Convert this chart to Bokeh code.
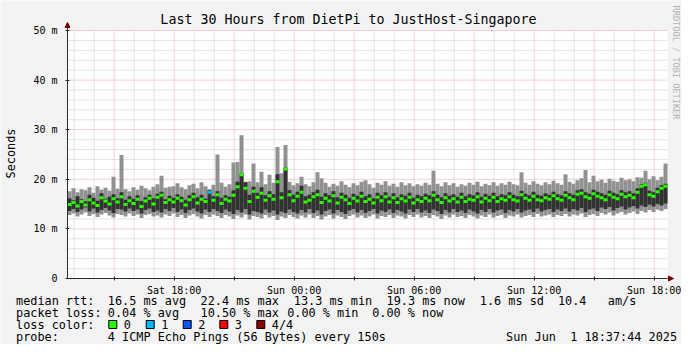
import numpy as np
import pandas as pd
from math import pi
from bokeh.plotting import figure
from bokeh.models import (Range1d, FixedTicker, Label, BoxAnnotation, Arrow,
                          NormalHead, ColumnDataSource)
from bokeh.embed import file_html
from bokeh.resources import INLINE

# ---------------- data ----------------
START = "2025-05-31 12:40"
END = "2025-06-01 18:40"
STEP = "12min"

rtt_max = [
    17.6, 18.2, 17.4, 18.0, 17.8, 18.4, 17.3, 18.6, 17.9, 18.3,
    17.7, 20.5, 18.1, 24.9, 18.0, 17.6, 18.4, 17.9, 18.7, 18.2,
    17.8, 18.5, 19.0, 20.7, 18.3, 18.5, 18.6, 19.2, 18.4, 18.0,
    18.8, 19.1, 18.2, 19.4, 18.6, 18.0, 18.9, 25.0, 19.3, 18.5,
    19.0, 23.4, 23.5, 28.9, 19.5, 19.6, 23.2, 19.4, 21.5, 19.0,
    20.9, 19.3, 26.5, 21.2, 26.9, 19.5, 18.8, 19.2, 20.5, 19.0,
    18.6, 19.4, 21.4, 20.2, 19.3, 18.5, 19.1, 18.7, 19.6, 18.9,
    18.4, 19.2, 18.8, 19.5, 19.8, 19.0, 18.3, 19.3, 18.9, 19.6,
    18.7, 19.1, 18.5, 19.4, 18.8, 19.2, 18.6, 19.0, 18.7, 19.3,
    18.9, 21.7, 19.1, 18.6, 19.4, 18.8, 19.2, 18.5, 19.0, 18.7,
    19.3, 18.9, 19.5, 18.6, 19.1, 18.8, 19.4, 18.7, 19.2, 18.9,
    19.5, 19.0, 18.8, 21.4, 19.3, 18.9, 19.6, 19.1, 18.8, 19.4,
    19.0, 19.7, 19.2, 18.9, 21.0, 19.5, 19.1, 19.8, 20.2, 21.9,
    19.4, 20.7, 19.6, 19.9, 19.3, 20.1, 19.7, 19.5, 20.3, 19.8,
    20.0, 19.6, 20.4, 20.3, 21.7, 20.0, 20.6, 19.8, 20.5, 23.2,
]
rtt_min = [
    12.8, 13.1, 12.5, 12.9, 13.3, 12.6, 13.0, 12.4, 12.9, 13.2,
    12.7, 12.3, 13.0, 12.8, 12.5, 13.1, 12.6, 12.9, 12.2, 12.8,
    13.0, 12.5, 12.7, 12.3, 12.9, 12.6, 13.1, 12.4, 12.8, 12.2,
    12.7, 13.0, 12.5, 12.1, 12.8, 12.4, 12.9, 12.6, 12.2, 12.8,
    12.5, 12.0, 12.7, 12.3, 12.9, 11.9, 12.6, 12.4, 12.1, 12.8,
    12.3, 12.6, 11.8, 12.5, 12.2, 12.8, 12.4, 12.1, 12.7, 12.3,
    12.9, 12.2, 12.6, 11.9, 12.5, 12.8, 12.1, 12.7, 12.4, 12.0,
    12.6, 12.9, 12.3, 12.7, 12.2, 12.5, 12.9, 12.1, 12.6, 12.4,
    12.8, 12.2, 12.7, 12.5, 12.1, 12.8, 12.4, 12.9, 12.3, 12.6,
    12.2, 12.8, 12.5, 12.0, 12.7, 12.3, 12.9, 12.4, 12.6, 12.2,
    12.8, 12.5, 12.1, 12.7, 12.4, 12.9, 12.3, 12.6, 12.8, 12.2,
    12.7, 12.5, 12.9, 12.3, 12.6, 12.8, 12.4, 13.0, 12.5, 12.7,
    12.9, 12.4, 12.8, 12.6, 13.0, 12.5, 12.9, 12.7, 13.1, 12.4,
    12.8, 13.0, 12.6, 13.2, 12.9, 13.3, 12.7, 13.1, 13.4, 12.9,
    13.2, 13.5, 13.0, 13.6, 13.3, 13.8, 13.4, 13.9, 13.6, 14.0,
]
inner_hi = [
    16.2, 15.8, 16.6, 16.0, 15.5, 16.9, 16.3, 15.7, 17.2, 16.1,
    16.5, 17.0, 16.2, 17.4, 15.9, 16.6, 16.1, 16.8, 15.6, 16.4,
    16.9, 16.2, 17.1, 17.5, 16.0, 16.7, 16.3, 17.0, 16.5, 15.9,
    16.8, 17.3, 16.4, 16.9, 16.1, 17.8, 16.6, 17.6, 16.3, 16.8,
    16.5, 17.8, 19.5, 21.2, 19.4, 16.9, 18.5, 17.3, 18.4, 16.8,
    17.6, 17.0, 21.0, 17.4, 22.4, 17.8, 16.9, 17.5, 18.7, 16.6,
    16.9, 17.4, 17.9, 16.5, 17.2, 16.8, 17.6, 16.4, 17.3, 16.9,
    16.3, 17.1, 16.7, 17.5, 16.6, 17.0, 16.2, 17.3, 16.8, 17.4,
    16.5, 17.2, 16.4, 17.0, 16.7, 17.3, 16.3, 16.9, 16.6, 17.1,
    16.8, 17.6, 16.9, 16.4, 17.2, 16.7, 17.0, 16.5, 17.3, 16.6,
    17.0, 16.8, 17.4, 16.5, 17.1, 16.7, 17.3, 16.6, 17.0, 16.8,
    17.4, 16.9, 16.6, 17.7, 17.1, 16.8, 17.5, 16.9, 16.7, 17.2,
    16.9, 17.5, 17.0, 16.8, 17.6, 17.2, 16.9, 17.8, 18.0, 17.4,
    17.1, 17.9, 17.5, 17.2, 16.9, 17.7, 17.3, 17.0, 17.8, 17.4,
    17.6, 17.2, 18.2, 19.0, 19.3, 17.7, 17.4, 18.3, 18.8, 19.1,
]
inner_lo = [
    13.6, 14.0, 13.4, 13.9, 14.3, 13.5, 14.1, 13.3, 13.8, 14.2,
    13.7, 13.2, 14.0, 13.9, 13.5, 14.1, 13.6, 13.9, 13.1, 13.8,
    14.1, 13.4, 13.7, 13.3, 14.0, 13.6, 14.2, 13.4, 13.9, 13.2,
    13.8, 14.1, 13.5, 13.1, 13.9, 13.4, 14.0, 13.6, 13.2, 13.9,
    13.5, 13.0, 13.8, 13.3, 14.0, 12.9, 13.6, 13.4, 13.1, 13.9,
    13.3, 13.7, 12.9, 13.5, 13.2, 13.9, 13.4, 13.1, 13.8, 13.3,
    14.0, 13.2, 13.7, 12.9, 13.6, 13.9, 13.1, 13.8, 13.4, 13.0,
    13.7, 14.0, 13.3, 13.8, 13.2, 13.6, 14.0, 13.1, 13.7, 13.4,
    13.9, 13.2, 13.8, 13.5, 13.1, 13.9, 13.4, 14.0, 13.3, 13.7,
    13.2, 13.9, 13.6, 13.0, 13.8, 13.3, 14.0, 13.4, 13.7, 13.2,
    13.9, 13.5, 13.1, 13.8, 13.4, 14.0, 13.3, 13.7, 13.9, 13.2,
    13.8, 13.5, 14.0, 13.3, 13.7, 13.9, 13.4, 14.1, 13.5, 13.8,
    14.0, 13.4, 13.9, 13.6, 14.1, 13.5, 14.0, 13.7, 14.2, 13.4,
    13.9, 14.1, 13.6, 14.3, 14.0, 14.4, 13.7, 14.2, 14.5, 13.9,
    14.3, 14.6, 14.1, 14.7, 14.4, 14.9, 14.5, 15.0, 14.7, 15.1,
]
median = [
    14.9, 15.3, 14.6, 15.5, 14.8, 15.9, 15.2, 14.7, 16.3, 15.6,
    15.0, 16.1, 15.4, 16.5, 14.9, 15.7, 15.1, 16.0, 14.5, 15.6,
    16.2, 15.0, 16.4, 16.8, 15.3, 15.9, 15.4, 16.2, 15.7, 14.8,
    15.9, 16.5, 15.2, 16.0, 15.5, 17.4, 15.8, 16.9, 15.1, 16.0,
    15.6, 16.8, 18.5, 20.9, 18.2, 15.5, 17.6, 16.4, 17.2, 15.8,
    16.7, 16.0, 19.5, 16.3, 22.1, 16.9, 15.7, 16.6, 17.4, 15.4,
    15.8, 16.5, 16.9, 15.3, 16.2, 15.6, 16.7, 15.2, 16.4, 15.9,
    15.1, 16.2, 15.6, 16.6, 15.5, 16.0, 15.2, 16.4, 15.7, 16.5,
    15.4, 16.3, 15.3, 16.1, 15.6, 16.4, 15.2, 15.9, 15.5, 16.2,
    15.7, 16.8, 15.9, 15.3, 16.3, 15.6, 16.1, 15.4, 16.4, 15.5,
    16.0, 15.8, 16.5, 15.4, 16.2, 15.7, 16.4, 15.5, 16.1, 15.8,
    16.5, 15.9, 15.6, 16.9, 16.2, 15.8, 16.6, 15.9, 15.7, 16.3,
    16.0, 16.7, 16.1, 15.8, 16.8, 16.3, 15.9, 17.0, 17.2, 16.5,
    16.2, 17.1, 16.6, 16.3, 15.9, 16.9, 16.4, 16.1, 17.0, 16.5,
    16.8, 16.3, 17.4, 18.6, 18.9, 16.9, 16.6, 17.5, 18.2, 18.6,
]
lost_pings = [0] * 35 + [1] + [0] * 114

y_ticks = [0, 10, 20, 30, 40, 50]
y_tick_labels = ["0", "10 m", "20 m", "30 m", "40 m", "50 m"]
y_minor = [2, 4, 6, 8, 12, 14, 16, 18, 22, 24, 26, 28, 32, 34, 36, 38,
           42, 44, 46, 48]
x_major_times = ["2025-05-31 15:00", "2025-05-31 18:00", "2025-05-31 21:00",
                 "2025-06-01 00:00", "2025-06-01 03:00", "2025-06-01 06:00",
                 "2025-06-01 09:00", "2025-06-01 12:00", "2025-06-01 15:00",
                 "2025-06-01 18:00"]
x_major_labels = ["", "Sat 18:00", "", "Sun 00:00", "", "Sun 06:00", "",
                  "Sun 12:00", "", "Sun 18:00"]

title_text = "Last 30 Hours from DietPi to JustHost-Singapore"
rtt_items = ["median rtt:", "16.5 ms avg", "22.4 ms max", "13.3 ms min",
             "19.3 ms now", "1.6 ms sd", "10.4   am/s"]
loss_items = ["packet loss:", "0.04 % avg", "10.50 % max", "0.00 % min",
              "0.00 % now"]
loss_names = ["0", "1", "2", "3", "4/4"]
loss_colors = ["#26ff00", "#00b8ff", "#0059ff", "#ff0000", "#8b0000"]
probe_items = ["probe:", "4 ICMP Echo Pings (56 Bytes) every 150s"]
stamp_text = "Sun Jun  1 18:37:44 2025"

# ---------------- layout helpers (pixel -> data) ----------------
W, H = 681, 344
PLOT_L, PLOT_B = 67, 278          # pixel of plot start / value 0
PX_PER_HOUR, PX_PER_UNIT = 20.0, 4.96
MS_H = 3600000.0

def ms(t):
    return float(pd.Timestamp(t).value // 10**6)

T0 = ms(START)
T1 = ms(END)

def X(px):
    return T0 + (px - PLOT_L) / PX_PER_HOUR * MS_H

def Y(py):
    return (PLOT_B - py) / PX_PER_UNIT

MONO = "DejaVu Sans Mono"
FS_LEG = "11.85px"
NBSP = "\u00a0"

times = pd.date_range(START, periods=len(rtt_max), freq=STEP)
src = ColumnDataSource(dict(
    left=times, right=times + pd.Timedelta(STEP),
    mx=rtt_max, mn=rtt_min, hi=inner_hi, lo=inner_lo, med=median,
    col=[loss_colors[k] for k in lost_pings],
))

p = figure(width=W, height=H, output_backend="svg", toolbar_location=None,
           x_axis_type="datetime",
           x_range=Range1d(X(0), X(W)), y_range=Range1d(Y(H), Y(0)),
           min_border=0, min_border_left=0, min_border_right=0,
           min_border_top=0, min_border_bottom=0,
           background_fill_color="#f3f3f3", border_fill_color="#f3f3f3",
           outline_line_color=None)
p.grid.visible = False

# white canvas of the graph
p.add_layout(BoxAnnotation(left=T0, right=T1, bottom=0, top=50,
                           fill_color="#ffffff", fill_alpha=1.0,
                           line_color=None, level="underlay"))

# grid (dotted)
tick_ms = [ms(t) for t in x_major_times]
hour_ms = [ms(t) for t in pd.date_range("2025-05-31 13:00",
                                        "2025-06-01 18:00", freq="1h")]
minor_x = [m for m in hour_ms if m not in tick_ms]
p.segment(x0=minor_x, y0=[0] * len(minor_x), x1=minor_x, y1=[50] * len(minor_x),
          line_color="#c8c8c8", line_width=1, line_dash="1 1")
p.segment(x0=[T0] * len(y_minor), y0=y_minor, x1=[T1] * len(y_minor), y1=y_minor,
          line_color="#c8c8c8", line_width=1, line_dash="1 1")
p.segment(x0=tick_ms, y0=[0] * len(tick_ms), x1=tick_ms, y1=[50] * len(tick_ms),
          line_color="#e3a0a0", line_width=1, line_dash="1 1")
p.segment(x0=[T0] * 5, y0=y_ticks[1:], x1=[T1] * 5, y1=y_ticks[1:],
          line_color="#e3a0a0", line_width=1, line_dash="1 1")

# smoke + median
p.quad(left="left", right="right", bottom="mn", top="mx", source=src,
       fill_color="#919191", line_color=None)
p.quad(left="left", right="right", bottom="lo", top="hi", source=src,
       fill_color="#323232", line_color=None)
p.segment(x0="left", y0="med", x1="right", y1="med", source=src,
          line_color="col", line_width=3, line_cap="butt")

# axes inside the canvas
p.xaxis.fixed_location = 0
p.xaxis.bounds = (T0, T1)
p.yaxis.fixed_location = T0
p.yaxis.bounds = (0, 50)
p.xaxis.ticker = FixedTicker(ticks=tick_ms, minor_ticks=minor_x)
p.xaxis.major_label_overrides = dict(zip(tick_ms, x_major_labels))
p.yaxis.ticker = FixedTicker(ticks=y_ticks, minor_ticks=y_minor)
p.yaxis.major_label_overrides = dict(zip(y_ticks, y_tick_labels))
for ax in (p.xaxis[0], p.yaxis[0]):
    ax.major_label_text_font = MONO
    ax.major_label_text_font_size = "10px"
    ax.major_label_text_color = "#000000"
    ax.axis_line_color = "#2c2c2c"
    ax.major_tick_line_color = "#2c2c2c"
    ax.minor_tick_line_color = None
    ax.major_tick_in = 2
    ax.major_tick_out = 2
p.yaxis.major_label_standoff = 6
p.xaxis.major_label_standoff = 2

# arrows at the axis ends
p.add_layout(Arrow(x_start=T0, y_start=50, x_end=T0, y_end=Y(22),
                   line_color="#2c2c2c", line_width=1,
                   end=NormalHead(size=5, fill_color="#7f0000", line_color="#7f0000")))
p.add_layout(Arrow(x_start=T1, y_start=0, x_end=X(673), y_end=0,
                   line_color="#2c2c2c", line_width=1,
                   end=NormalHead(size=5, fill_color="#7f0000", line_color="#7f0000")))

def lab(text, x, y, size=FS_LEG, align="left", angle=0.0, color="#000000"):
    p.add_layout(Label(x=X(x), y=Y(y), text=text.replace(" ", NBSP),
                       text_font=MONO, text_font_size=size, text_align=align,
                       text_baseline="middle", angle=angle, text_color=color))

lab(title_text, 348, 19, size="13.3px", align="center")
lab("Seconds", 10, 153, align="center", angle=pi / 2)
lab("RRDTOOL / TOBI OETIKER", 675.5, 62, size="8.6px", align="center",
    angle=-pi / 2, color="#b4b4b4")

LINE_Y = [300, 312, 324, 336]
rtt_x = [15.5, 107.3, 200, 293.3, 386, 479.3, 557.4]
for t, x in zip(rtt_items, rtt_x):
    lab(t, x, LINE_Y[0])
loss_x = [15.5, 107.3, 200, 286.7, 371.7]
for t, x in zip(loss_items, loss_x):
    lab(t, x, LINE_Y[1])
lab("loss color:", 15.5, LINE_Y[2])
box_x = [108.3, 145.7, 182.7, 219.3, 256.3]
for name, c, bx in zip(loss_names, loss_colors, box_x):
    p.add_layout(BoxAnnotation(left=X(bx), right=X(bx + 8),
                               bottom=Y(LINE_Y[2] + 4), top=Y(LINE_Y[2] - 4),
                               fill_color=c, fill_alpha=1.0,
                               line_color="#000000", line_width=1, line_alpha=1.0))
    lab(name, bx + 15, LINE_Y[2])
lab(probe_items[0], 15.5, LINE_Y[3])
lab(probe_items[1], 107.3, LINE_Y[3])
lab(stamp_text, 505.5, LINE_Y[3])

open("out.html", "w").write(file_html(p, INLINE))
